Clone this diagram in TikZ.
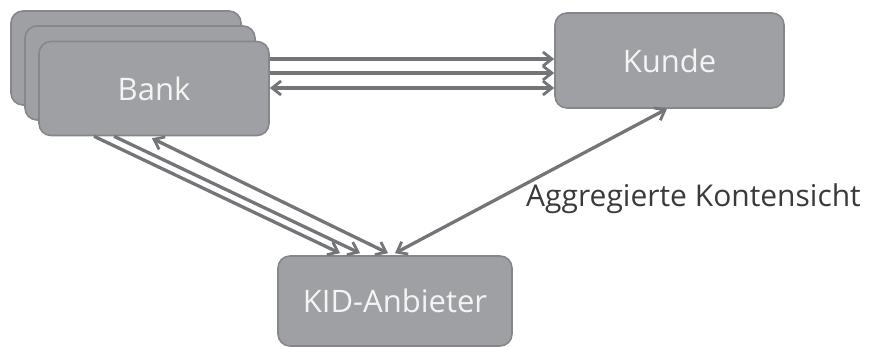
\documentclass[tikz,border=0pt]{standalone}
\usepackage{fontspec}
\setmainfont{Open Sans}
\usetikzlibrary{arrows.meta}
\definecolor{boxfill}{HTML}{9FA0A4}
\definecolor{boxline}{HTML}{86878B}
\definecolor{boxtext}{HTML}{F4F4F4}
\definecolor{linkcol}{HTML}{747579}
\definecolor{labeltext}{HTML}{3A3A3A}
\tikzset{
  card/.style={draw=boxline, line width=1.6pt, fill=boxfill, rounded corners=12pt,
    text=boxtext, font=\fontsize{31}{36}\selectfont, inner sep=0pt},
  link/.style={draw=linkcol, line width=3.3pt},
  barb/.tip={Straight Barb[length=9pt,width=14pt,line width=2.8pt]},
  tip/.style={-barb},
  tips/.style={barb-barb}
}
\begin{document}
\begin{tikzpicture}[x=1pt,y=-1pt]
\useasboundingbox (0,0) rectangle (871,347);
% stacked bank cards, back to front
\node[card, minimum width=230pt, minimum height=94pt] (bankc) at (126,58) {};
\node[card, minimum width=230pt, minimum height=94pt] (bankb) at (140,73) {};
\node[card, minimum width=230pt, minimum height=94pt] (bank) at (154,88.5) {Bank};
\node[card, minimum width=229pt, minimum height=95pt] (kunde) at (669.5,60.5) {Kunde};
\node[card, minimum width=234pt, minimum height=90pt] (kid) at (395,301) {KID-Anbieter};
% links between bank and customer
\draw[link, tip] ([yshift=29.5pt]bank.east) -- ([yshift=1.5pt]kunde.west);
\draw[link, tip] ([yshift=15.5pt]bank.east) -- ([yshift=-12.5pt]kunde.west);
\draw[link, tips] ([yshift=0.5pt]bank.east) -- ([yshift=-27.5pt]kunde.west);
% links between bank and KID provider
\draw[link, tip] ([xshift=-60pt]bank.south) -- ([xshift=-55pt,yshift=2pt]kid.north);
\draw[link, tip] ([xshift=-40pt]bank.south) -- ([xshift=-35pt,yshift=2pt]kid.north);
\draw[link, tips] ([xshift=-2pt,yshift=-2pt]bank.south) -- ([xshift=-7pt,yshift=2pt]kid.north);
% customer <-> KID provider
\draw[link, tips] ([xshift=-2.5pt]kunde.south) -- ([yshift=2pt]kid.north);
\node[anchor=base west, inner sep=0pt, text=labeltext, font=\fontsize{30}{34}\selectfont] (agg) at (526,207) {Aggregierte Kontensicht};
\end{tikzpicture}
\end{document}
